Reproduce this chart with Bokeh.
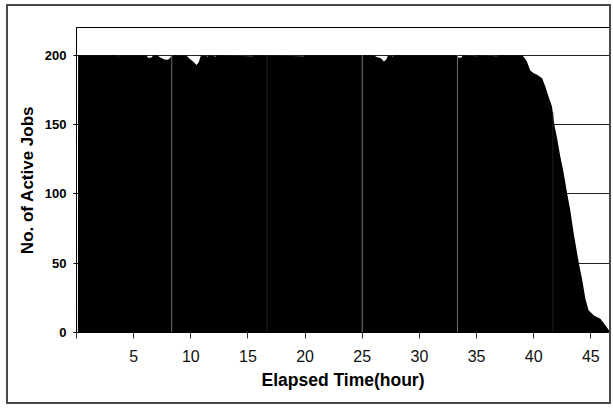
from bokeh.plotting import figure
from bokeh.models import Range1d, FixedTicker
from bokeh.embed import file_html
from bokeh.resources import INLINE

# Elapsed time (hours) and number of active jobs
hours = [0.0, 0.12, 0.14, 3.6, 3.7, 3.8, 6.1, 6.3, 6.6, 6.7, 7.05, 7.3, 7.7, 8.0,
         8.2, 8.3, 9.6, 9.9, 10.2, 10.5, 10.7, 10.85, 10.95, 11.5, 11.6, 12.2,
         12.3, 15.4, 15.5, 19.9, 20.0, 26.0, 26.3, 26.6, 26.9, 27.1, 27.25, 27.7,
         27.8, 33.3, 33.45, 33.7, 33.8, 35.0, 35.1, 36.8, 36.9, 39.0, 39.2, 39.4,
         39.7, 40.0, 40.3, 40.74, 41.03, 41.3, 41.6, 41.8, 42.05, 42.3, 42.6,
         42.93, 43.2, 43.5, 43.95, 44.24, 44.53, 44.8, 45.26, 45.84, 46.28, 46.6,
         46.65]
active_jobs = [0, 0, 200, 200, 199, 200, 200, 198, 198.5, 200, 200, 198.5, 197, 196.7,
               198, 200, 200, 197.5, 195.5, 193, 195, 199, 200, 199, 200, 199,
               200, 199.3, 200, 199.3, 200, 200, 198.5, 198, 195.5, 197, 200, 199,
               200, 200, 198, 198.5, 200, 199.3, 200, 199.3, 200, 200, 198, 195.4,
               189, 187, 186, 183.4, 177, 170, 163, 150, 140, 128, 116,
               100, 88, 71.4, 50, 38, 24, 16, 12.3, 10, 5, 1.4,
               0]

# segment boundaries visible as thin lines in the fill
break_hours = [8.33, 16.67, 25.0, 33.33, 41.67]
break_tops = [200, 200, 200, 200, 159]
break_colors = ["#6e6e6e", "#1e1e1e", "#7a7a7a", "#6e6e6e", "#1e1e1e"]

x_ticks = [0, 5, 10, 15, 20, 25, 30, 35, 40, 45]
y_ticks = [0, 50, 100, 150, 200]

p = figure(width=605, height=400, output_backend="svg", toolbar_location=None,
           x_range=Range1d(0, 46.63), y_range=Range1d(0, 220),
           min_border_left=68, min_border_right=4, min_border_top=21,
           min_border_bottom=74)
# outer chart border
p.styles = {"border": "2px solid #4a4a4a", "margin": "4px 0px 0px 6px"}

p.varea(x=hours, y1=0, y2=active_jobs, fill_color="black")
p.segment(x0=break_hours, y0=[0] * len(break_hours), x1=break_hours, y1=break_tops,
          line_color=break_colors, line_width=1)

p.outline_line_color = "black"
p.outline_line_width = 1

p.xgrid.visible = False
p.ygrid.ticker = FixedTicker(ticks=y_ticks)
p.ygrid.grid_line_color = "#222222"
p.ygrid.grid_line_width = 1

p.xaxis.ticker = FixedTicker(ticks=x_ticks)
p.xaxis.major_label_overrides = {0: ""}
p.xaxis.axis_label = "Elapsed Time(hour)"
p.xaxis.axis_label_text_font = "Liberation Sans"
p.xaxis.axis_label_text_font_style = "bold"
p.xaxis.axis_label_text_font_size = "17.5px"
p.xaxis.axis_label_text_color = "black"
p.xaxis.axis_label_standoff = 5
p.xaxis.major_label_text_font = "Liberation Sans"
p.xaxis.major_label_text_font_size = "16px"
p.xaxis.major_label_text_color = "#111111"
p.xaxis.major_label_standoff = 11
p.xaxis.major_tick_out = 6
p.xaxis.major_tick_in = 0
p.xaxis.minor_tick_line_color = None
p.xaxis.axis_line_color = "black"
p.xaxis.major_tick_line_color = "#333333"

p.yaxis.ticker = FixedTicker(ticks=y_ticks)
p.yaxis.axis_label = "No. of Active Jobs"
p.yaxis.axis_label_text_font = "Liberation Sans"
p.yaxis.axis_label_text_font_style = "bold"
p.yaxis.axis_label_text_font_size = "17px"
p.yaxis.axis_label_text_color = "black"
p.yaxis.axis_label_standoff = 5
p.yaxis.major_label_text_font = "Liberation Sans"
p.yaxis.major_label_text_font_style = "bold"
p.yaxis.major_label_text_font_size = "13px"
p.yaxis.major_label_text_color = "black"
p.yaxis.major_label_standoff = 7
p.yaxis.major_tick_out = 3
p.yaxis.major_tick_in = 0
p.yaxis.minor_tick_line_color = None
p.yaxis.axis_line_color = "black"

open("out.html", "w").write(file_html(p, INLINE))
